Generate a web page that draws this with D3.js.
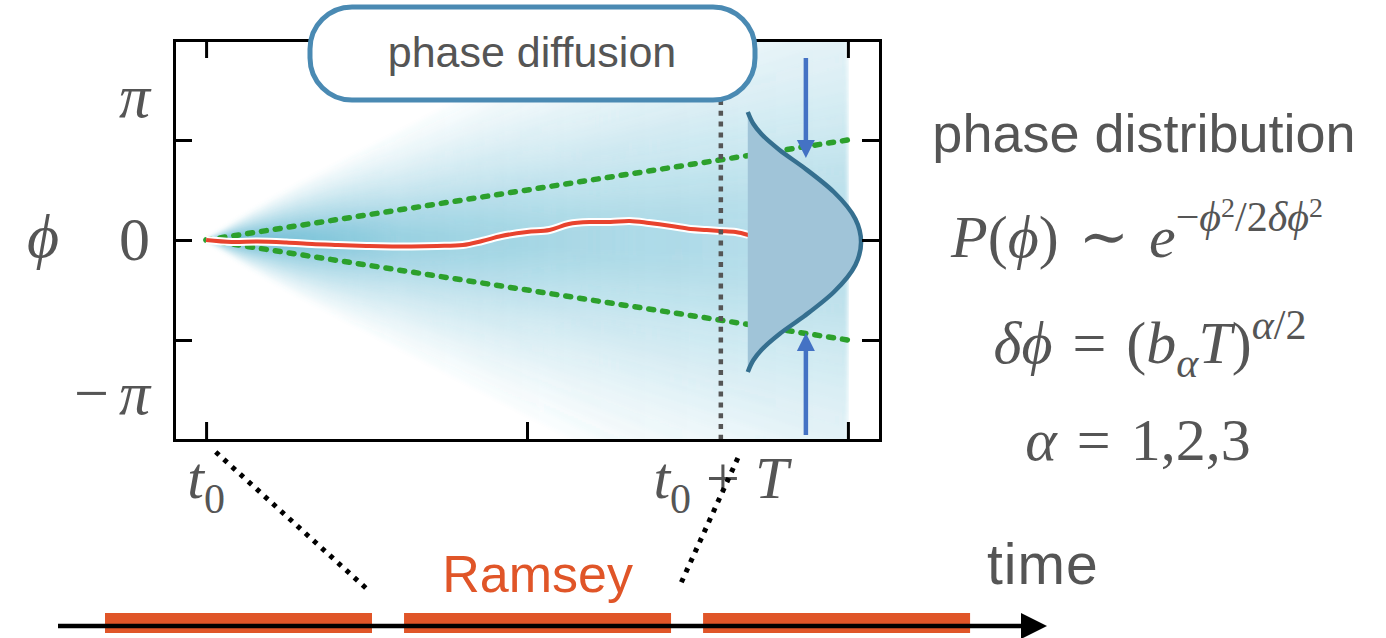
<!DOCTYPE html>
<html>
<head>
<meta charset="utf-8">
<script src="https://cdn.jsdelivr.net/npm/d3@7"></script>
<style>
  html, body { margin: 0; padding: 0; background: #fff; }
  svg { display: block; }
  .axis path, .axis line { stroke: #000; stroke-width: 3; }
</style>
</head>
<body>
<svg id="fig" width="1386" height="638"></svg>
<script>
// ---------------- data ----------------
const timeTicks = [0, 1, 2];
const phaseTicks = [-1, 0, 1];
const phaseLabelPos = [1.43, 0, -1.54];
const phaseLabelText = ["π", "0", "−π"];
const timeLabelPos = [0, 1.604];
const timeLabelText = ["t0", "t0 + T"];

// a single phase trajectory (red)
const pathT   = [0, 0.08, 0.16, 0.25, 0.33, 0.41, 0.50, 0.58, 0.64, 0.72, 0.80, 0.86, 0.92, 1.00, 1.07, 1.13, 1.20, 1.26, 1.32, 1.38, 1.45, 1.51, 1.56, 1.60, 1.65, 1.69];
const pathPhi = [0, -0.02, -0.015, -0.025, -0.04, -0.05, -0.06, -0.065, -0.065, -0.06, -0.05, -0.01, 0.04, 0.08, 0.10, 0.16, 0.18, 0.18, 0.19, 0.17, 0.14, 0.11, 0.10, 0.09, 0.08, 0.05];

// spread of the trajectory ensemble (1 sigma) versus time
const cloudT     = [0, 0.1, 0.25, 0.5, 0.75, 1.0, 1.25, 1.5, 1.75, 2.0];
const cloudSigma = [0, 0.06, 0.14, 0.26, 0.38, 0.50, 0.62, 0.74, 0.86, 0.98];
// shading bands, in units of sigma
const cloudBands = [0.2, 0.35, 0.47, 0.58, 0.68, 0.78, 0.88, 0.98, 1.08, 1.18, 1.29, 1.4, 1.52, 1.65, 1.78, 1.92, 2.07, 2.23, 2.4, 2.58, 2.78, 3.0, 3.25, 3.5];

// +/- sigma guide lines
const guideT = [0, 2];
const guideUpper = [0, 1];
const guideLower = [0, -1];

// phase distribution at t0 + T
const distPhi  = [1.28, 1.16, 1.06, 0.90, 0.72, 0.48, 0.21, -0.02, -0.25, -0.52, -0.76, -0.94, -1.10, -1.20, -1.32];
const distDens = [0, 0.05, 0.12, 0.28, 0.50, 0.76, 0.95, 1.0, 0.95, 0.76, 0.50, 0.28, 0.12, 0.05, 0];

// Ramsey pulse sequence
const pulseStart = [0, 1.12, 2.24];
const pulseEnd   = [1, 2.12, 3.24];
const connectorTopT = [0.03, 1.657];
const connectorBottomU = [0.985, 2.154];

// ---------------- setup ----------------
const svg = d3.select("#fig");
const serif = "'Liberation Serif', 'Times New Roman', 'DejaVu Serif', serif";
const sans = "'Liberation Sans', Arial, Helvetica, sans-serif";
const grey = "#555";

const x = d3.scaleLinear().domain([-0.1, 2.1]).range([174, 880]);
const y = d3.scaleLinear().domain([-2, 2]).range([440, 40]);
const tl = d3.scaleLinear().domain([0, 1]).range([105, 372]);

const defs = svg.append("defs");
// cloud stops sharply at the last time step and at the frame
defs.append("clipPath").attr("id", "cloudClip")
  .append("rect").attr("x", x(-0.1)).attr("y", y(2)).attr("width", x(2) - x(-0.1) + 1).attr("height", y(-2) - y(2));
defs.append("filter").attr("id", "soft")
  .attr("x", "-5%").attr("y", "-5%").attr("width", "110%").attr("height", "110%")
  .append("feGaussianBlur").attr("stdDeviation", 2.2);

const grad = defs.append("linearGradient").attr("id", "cloudFade")
  .attr("gradientUnits", "userSpaceOnUse")
  .attr("x1", x(0)).attr("x2", x(2)).attr("y1", 0).attr("y2", 0);
[[0, 0.95], [0.1, 0.75], [0.3, 0.47], [0.6, 0.35], [1, 0.3]].forEach(([o, a]) =>
  grad.append("stop").attr("offset", o).attr("stop-color", "#45a9c8").attr("stop-opacity", a));

// ---------------- trajectory cloud ----------------
const cloudPts = cloudT.map((t, i) => ({ t, s: cloudSigma[i] }));
const cloud = svg.append("g").attr("clip-path", "url(#cloudClip)")
  .append("g").attr("filter", "url(#soft)");
cloudBands.forEach(k => {
  cloud.append("path")
    .datum(cloudPts)
    .attr("d", d3.area()
      .x(d => x(d.t))
      .y0(d => y(-k * d.s))
      .y1(d => y(k * d.s))
      .curve(d3.curveMonotoneX))
    .attr("fill", "url(#cloudFade)")
    .attr("fill-opacity", 0.065);
});

// ---------------- guide lines ----------------
[guideUpper, guideLower].forEach(g => {
  svg.append("path")
    .datum(guideT.map((t, i) => [t, g[i]]))
    .attr("d", d3.line().x(d => x(d[0])).y(d => y(d[1])))
    .attr("fill", "none")
    .attr("stroke", "#2ca02c")
    .attr("stroke-width", 5.5)
    .attr("stroke-linecap", "round")
    .attr("stroke-dasharray", "5,9");
});

// ---------------- sample trajectory ----------------
const traj = pathT.map((t, i) => [t, pathPhi[i]]);
const trajLine = d3.line().x(d => x(d[0])).y(d => y(d[1])).curve(d3.curveCatmullRom);
svg.append("path").datum(traj).attr("d", trajLine)
  .attr("fill", "none").attr("stroke", "#fff").attr("stroke-width", 8).attr("stroke-linejoin", "round");
svg.append("path").datum(traj).attr("d", trajLine)
  .attr("fill", "none").attr("stroke", "#e8432e").attr("stroke-width", 4).attr("stroke-linejoin", "round");

// ---------------- measurement time marker ----------------
svg.append("line")
  .attr("x1", x(timeLabelPos[1])).attr("x2", x(timeLabelPos[1]))
  .attr("y1", 100).attr("y2", y(-2) + 5)
  .attr("stroke", grey).attr("stroke-width", 4.5)
  .attr("stroke-dasharray", "5,5.8");

// ---------------- phase distribution ----------------
const distBaseT = 1.688;
const distWidthT = 0.353;
const distPts = distPhi.map((p, i) => ({ p, d: distDens[i] }));
svg.append("path").datum(distPts)
  .attr("d", d3.area()
    .y(d => y(d.p))
    .x0(x(distBaseT))
    .x1(d => x(distBaseT + distWidthT * d.d))
    .curve(d3.curveMonotoneY))
  .attr("fill", "#a0c4d8");
svg.append("path").datum(distPts)
  .attr("d", d3.line()
    .y(d => y(d.p))
    .x(d => x(distBaseT + distWidthT * d.d))
    .curve(d3.curveMonotoneY))
  .attr("fill", "none")
  .attr("stroke", "#356f8f")
  .attr("stroke-width", 4.5);

// ---------------- squeezing arrows ----------------
const arrowT = 1.869;
function arrow(fromPhi, toPhi) {
  const ax = x(arrowT), y0 = y(fromPhi), y1 = y(toPhi);
  const dir = Math.sign(y1 - y0);
  const head = 18, half = 9;
  svg.append("line").attr("x1", ax).attr("x2", ax).attr("y1", y0).attr("y2", y1 - dir * head)
    .attr("stroke", "#4472c4").attr("stroke-width", 4.5);
  svg.append("path")
    .attr("d", `M${ax},${y1}L${ax - half},${y1 - dir * head}L${ax + half},${y1 - dir * head}Z`)
    .attr("fill", "#4472c4");
}
arrow(1.82, 0.82);
arrow(-1.95, -0.93);

// ---------------- axes (frame with inward ticks) ----------------
svg.append("g").attr("class", "axis").attr("transform", `translate(${x(-0.1)},0)`)
  .call(d3.axisLeft(y).tickValues(phaseTicks).tickSize(-18).tickSizeOuter(0).tickFormat(""));
svg.append("g").attr("class", "axis").attr("transform", `translate(${x(2.1)},0)`)
  .call(d3.axisRight(y).tickValues(phaseTicks).tickSize(-18).tickSizeOuter(0).tickFormat(""));
svg.append("g").attr("class", "axis").attr("transform", `translate(0,${y(-2)})`)
  .call(d3.axisBottom(x).tickValues(timeTicks).tickSize(-18).tickSizeOuter(0).tickFormat(""));
svg.append("g").attr("class", "axis").attr("transform", `translate(0,${y(2)})`)
  .call(d3.axisTop(x).tickValues(timeTicks).tickSize(-18).tickSizeOuter(0).tickFormat(""));
svg.selectAll(".axis path").attr("stroke-linecap", "square");

// ---------------- axis labels ----------------
const ylab = svg.append("g").attr("font-family", serif).attr("font-size", 62).attr("fill", grey);
phaseLabelText.forEach((txt, i) => {
  const t = ylab.append("text")
    .attr("x", 150).attr("y", y(phaseLabelPos[i])).attr("dy", "0.33em")
    .attr("text-anchor", "end");
  if (txt === "0") t.text(txt);
  else if (txt === "π") t.append("tspan").attr("font-style", "italic").text("π");
  else {
    t.append("tspan").text("−");
    t.append("tspan").attr("font-style", "italic").attr("dx", 10).text("π");
  }
});
svg.append("text")
  .attr("x", 43).attr("y", 257)
  .attr("text-anchor", "middle")
  .attr("font-family", serif).attr("font-size", 62).attr("font-style", "italic")
  .attr("fill", grey).text("ϕ");

const xlab = svg.append("g").attr("font-family", serif).attr("font-size", 60).attr("fill", grey);
timeLabelText.forEach((txt, i) => {
  const t = xlab.append("text").attr("x", x(timeLabelPos[i])).attr("y", 498).attr("text-anchor", "middle");
  t.append("tspan").attr("font-style", "italic").text("t");
  t.append("tspan").attr("font-size", 42).attr("dy", 15).text("0");
  if (txt.length > 2) {
    t.append("tspan").attr("dy", -15).text(" + ");
    t.append("tspan").attr("font-style", "italic").text("T");
  }
});

// ---------------- title box ----------------
svg.append("rect")
  .attr("x", 310).attr("y", 7).attr("width", 445).attr("height", 93).attr("rx", 42)
  .attr("fill", "#fff").attr("stroke", "#4a8ab3").attr("stroke-width", 5);
svg.append("text")
  .attr("x", 532).attr("y", 67).attr("text-anchor", "middle")
  .attr("font-family", sans).attr("font-size", 43).attr("fill", grey)
  .text("phase diffusion");

// ---------------- formulas ----------------
svg.append("text")
  .attr("x", 1144).attr("y", 152).attr("text-anchor", "middle")
  .attr("font-family", sans).attr("font-size", 54).attr("fill", grey)
  .text("phase distribution");

function formula(xPos, yPos, parts) {
  const t = svg.append("text").attr("x", xPos).attr("y", yPos)
    .attr("font-family", serif).attr("font-size", 60).attr("fill", grey)
    .attr("text-anchor", "middle");
  parts.forEach(p => {
    const s = t.append("tspan").text(p.s);
    if (p.i) s.attr("font-style", "italic");
    if (p.fs) s.attr("font-size", p.fs);
    if (p.dy) s.attr("dy", p.dy);
    if (p.dx) s.attr("dx", p.dx);
  });
}
const gap = "\u2004";
formula(1137, 257, [
  { s: "P", i: 1 }, { s: "(" }, { s: "ϕ", i: 1 }, { s: ")" + gap + "∼" + gap }, { s: "e", i: 1 },
  { s: "−", fs: 42, dy: -26 }, { s: "ϕ", i: 1, fs: 42 }, { s: "2", fs: 28, dy: -14 },
  { s: "/2", fs: 42, dy: 14 }, { s: "δϕ", i: 1, fs: 42 }, { s: "2", fs: 28, dy: -14 }
]);
formula(1150, 363, [
  { s: "δϕ", i: 1 }, { s: gap + "=" + gap + "(" }, { s: "b", i: 1 }, { s: "α", i: 1, fs: 42, dy: 14 },
  { s: "T", i: 1, dy: -14 }, { s: ")" }, { s: "α", i: 1, fs: 42, dy: -24 }, { s: "/2", fs: 42 }
]);
formula(1138, 460, [{ s: "α", i: 1 }, { s: gap + "=" + gap + "1,2,3" }]);

// ---------------- Ramsey sequence timeline ----------------
svg.selectAll("rect.pulse").data(pulseStart).join("rect")
  .attr("class", "pulse")
  .attr("x", d => tl(d)).attr("width", (d, i) => tl(pulseEnd[i]) - tl(d))
  .attr("y", 613).attr("height", 20)
  .attr("fill", "#e05528");
svg.append("line")
  .attr("x1", tl(-0.176)).attr("x2", tl(3.44))
  .attr("y1", 626).attr("y2", 626)
  .attr("stroke", "#000").attr("stroke-width", 4.5);
svg.append("path")
  .attr("d", `M${tl(3.528)},626L${tl(3.528) - 26},613L${tl(3.528) - 26},639Z`)
  .attr("fill", "#000");

svg.append("text")
  .attr("x", tl(1.62)).attr("y", 592).attr("text-anchor", "middle")
  .attr("font-family", sans).attr("font-size", 52).attr("fill", "#e05528")
  .text("Ramsey");
svg.append("text")
  .attr("x", 987).attr("y", 584)
  .attr("font-family", sans).attr("font-size", 57).attr("letter-spacing", 1).attr("fill", grey)
  .text("time");

// connectors from the diagram's time window to the pulse sequence
const connTopY = [452, 458], connBottomY = [590, 585];
connectorTopT.forEach((t, i) => {
  svg.append("line")
    .attr("x1", x(t)).attr("y1", connTopY[i])
    .attr("x2", tl(connectorBottomU[i])).attr("y2", connBottomY[i])
    .attr("stroke", "#000").attr("stroke-width", 5)
    .attr("stroke-dasharray", "4.5,6.5");
});
</script>
</body>
</html>
